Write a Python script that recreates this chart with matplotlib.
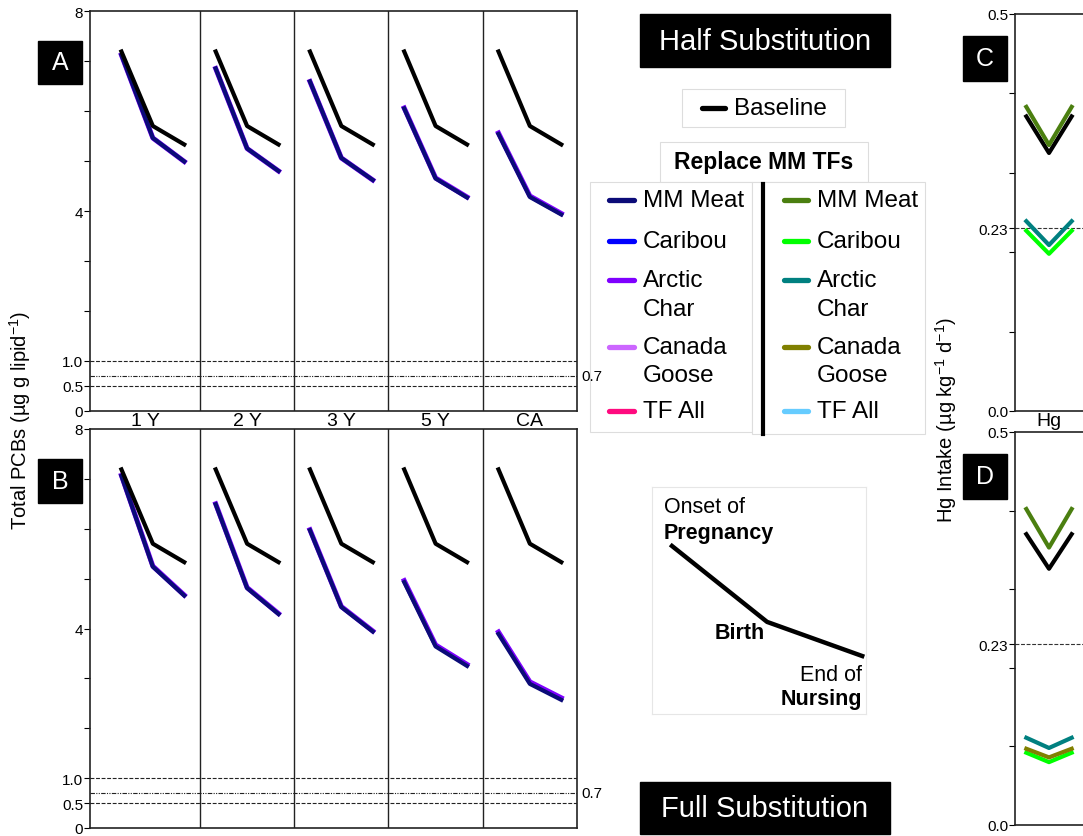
import matplotlib.pyplot as plt
from matplotlib.lines import Line2D
from matplotlib.patches import Rectangle
from matplotlib.transforms import blended_transform_factory

plt.rcParams['font.family'] = ['Liberation Sans', 'DejaVu Sans']
plt.rcParams['mathtext.fontset'] = 'custom'
plt.rcParams['mathtext.rm'] = 'Liberation Sans'

W, H = 1083, 837

# ---- data ----
periods = ['1 Y', '2 Y', '3 Y', '5 Y', 'CA']
stage_x = [0.5, 1.5, 2.5]          # onset of pregnancy, birth, end of nursing

pcb_baseline = [7.19, 5.70, 5.33]
pcb_half_meat = [[7.12, 5.46, 4.99], [6.85, 5.25, 4.80], [6.59, 5.06, 4.62],
                 [6.05, 4.65, 4.27], [5.54, 4.28, 3.93]]
pcb_half_char = [[7.12, 5.46, 4.99], [6.85, 5.25, 4.80], [6.59, 5.06, 4.62],
                 [6.06, 4.66, 4.28], [5.56, 4.30, 3.95]]
pcb_full_meat = [[7.06, 5.24, 4.66], [6.49, 4.81, 4.29], [5.97, 4.43, 3.94],
                 [4.93, 3.64, 3.25], [3.89, 2.89, 2.57]]
pcb_full_char = [[7.07, 5.25, 4.67], [6.50, 4.82, 4.30], [5.98, 4.44, 3.95],
                 [4.96, 3.67, 3.28], [3.93, 2.93, 2.61]]

hg_half_base = [0.371, 0.325, 0.371]
hg_half_meat = [0.383, 0.335, 0.383]
hg_half_caribou = [0.227, 0.198, 0.227]
hg_half_char = [0.239, 0.209, 0.239]

hg_full_base = [0.370, 0.326, 0.370]
hg_full_meat = [0.402, 0.353, 0.402]
hg_full_caribou = [0.092, 0.080, 0.092]
hg_full_goose = [0.097, 0.086, 0.097]
hg_full_char = [0.111, 0.098, 0.111]

pcb_guides = [1.0, 0.5]
pcb_guide_07 = 0.7
hg_guide = 0.23

timeline_x = [0, 1, 2]
timeline_y = [1.0, 0.31, 0.0]

food_labels = ['MM Meat', 'Caribou', 'Arctic\nChar', 'Canada\nGoose', 'TF All']
pcb_colors = ['#0b0b78', '#0000ff', '#7f00ff', '#cc66ff', '#ff0a7f']
hg_colors = ['#4b7f10', '#00ff00', '#008080', '#808000', '#66ccff']


def box(x0, y0, x1, y1):
    return [x0 / W, 1 - y1 / H, (x1 - x0) / W, (y1 - y0) / H]


def P(x, y):
    return x / W, 1 - y / H


fig = plt.figure(figsize=(W / 100, H / 100), dpi=100)
LW = 3


def pcb_panel(rect, meat, char, show_strip):
    ax = fig.add_axes(rect)
    for k in range(len(periods)):
        xs = [3 * k + s for s in stage_x]
        ax.plot(xs, char[k], color=pcb_colors[2], lw=LW + 0.6, zorder=4)
        ax.plot(xs, meat[k], color=pcb_colors[0], lw=LW, zorder=5)
        ax.plot(xs, pcb_baseline, color='black', lw=LW, zorder=6)
    for xv in [3, 6, 9, 12]:
        ax.axvline(xv, color='#222222', lw=1.0, zorder=1)
    for yv in pcb_guides:
        ax.axhline(yv, color='#222222', lw=0.8, ls=(0, (3.5, 1.5)), zorder=1)
    ax.axhline(pcb_guide_07, color='#222222', lw=0.8,
               ls=(0, (4, 1.2, 1, 1.2, 1, 1.2)), zorder=1)
    tr = blended_transform_factory(ax.transAxes, ax.transData)
    ax.text(1.01, pcb_guide_07, '0.7', transform=tr, va='center', ha='left', fontsize=11)
    ax.set_xlim(-0.5, 15)
    ax.set_ylim(0, 8)
    ax.set_xticks([])
    ax.set_yticks([0, 0.5, 1, 2, 3, 4, 5, 6, 7, 8])
    ax.set_yticklabels(['0', '0.5', '1.0', '', '', '4', '', '', '', '8'], fontsize=11)
    ax.tick_params(axis='y', direction='out', length=4, width=0.8, pad=1)
    for sp in ax.spines.values():
        sp.set_color('#222222')
        sp.set_linewidth(1.2)
    if show_strip:
        trs = blended_transform_factory(ax.transData, ax.transAxes)
        edges = [-0.5, 3, 6, 9, 12, 15]
        for k, lab in enumerate(periods):
            ax.text((edges[k] + edges[k + 1]) / 2, -0.023, lab, transform=trs,
                    ha='center', va='center', fontsize=14)
    return ax


axA = pcb_panel(box(90, 12, 577, 412), pcb_half_meat, pcb_half_char, True)
axB = pcb_panel(box(90, 430, 577, 829), pcb_full_meat, pcb_full_char, False)


def hg_panel(rect, series, show_strip):
    ax = fig.add_axes(rect)
    for vals, col in series:
        ax.plot(stage_x, vals, color=col, lw=LW)
    ax.axhline(hg_guide, color='#333333', lw=0.8, ls=(0, (3.5, 1.5)), zorder=1)
    ax.set_xlim(0, 3)
    ax.set_ylim(0, 0.5)
    ax.set_xticks([])
    ax.set_yticks([0, 0.1, 0.2, hg_guide, 0.3, 0.4, 0.5])
    ax.set_yticklabels(['0.0', '', '', '0.23', '', '', '0.5'], fontsize=11)
    ax.tick_params(axis='y', direction='out', length=4, width=0.8, pad=1)
    ax.spines['right'].set_visible(False)
    for sp in ax.spines.values():
        sp.set_color('#222222')
        sp.set_linewidth(1.2)
    if show_strip:
        ax.text(1.5, -0.025, 'Hg', transform=blended_transform_factory(ax.transData, ax.transAxes),
                ha='center', va='center', fontsize=14)
    return ax


axC = hg_panel(box(1015, 15, 1083, 412),
               [(hg_half_base, 'black'), (hg_half_meat, hg_colors[0]),
                (hg_half_caribou, hg_colors[1]), (hg_half_char, hg_colors[2])], True)
axD = hg_panel(box(1015, 433, 1083, 826),
               [(hg_full_base, 'black'), (hg_full_meat, hg_colors[0]),
                (hg_full_caribou, hg_colors[1]), (hg_full_goose, hg_colors[3]),
                (hg_full_char, hg_colors[2])], False)

# axis titles
fig.text(*P(20, 420), 'Total PCBs (µg g lipid$^{\\mathregular{-1}}$)', rotation=90,
         ha='center', va='center', fontsize=14.5)
fig.text(*P(946, 420), 'Hg Intake (µg kg$^{\\mathregular{-1}}$ d$^{\\mathregular{-1}}$)', rotation=90,
         ha='center', va='center', fontsize=14.5)


def black_label(x0, y0, x1, y1, txt, size):
    fig.add_artist(Rectangle(P(x0, y1), (x1 - x0) / W, (y1 - y0) / H,
                             transform=fig.transFigure, color='black', zorder=10))
    fig.text(*P((x0 + x1) / 2, (y0 + y1) / 2), txt, color='white', fontsize=size,
             ha='center', va='center', zorder=11)


black_label(38, 42, 82, 85, 'A', 18)
black_label(38, 460, 82, 504, 'B', 18)
black_label(963, 37, 1007, 82, 'C', 18)
black_label(963, 455, 1007, 500, 'D', 18)
black_label(640, 15, 890, 68, 'Half Substitution', 21)
black_label(640, 783, 890, 835, 'Full Substitution', 21)


def frame(x0, y0, x1, y1, ec='#dddddd'):
    # drawn below the axes so the "0.7" label stays on top
    fig.add_artist(Rectangle(P(x0, y1), (x1 - x0) / W, (y1 - y0) / H,
                             transform=fig.transFigure, facecolor='white',
                             edgecolor=ec, lw=0.8, zorder=-1))


def handle(x0, x1, y, col):
    fig.add_artist(Line2D([x0 / W, x1 / W], [1 - y / H] * 2, transform=fig.transFigure,
                          color=col, lw=3.8, solid_capstyle='round', zorder=3))


# baseline legend
frame(682, 90, 845, 128)
handle(702, 725, 109, 'black')
fig.text(*P(734, 109), 'Baseline', fontsize=17.5, va='center', ha='left', zorder=4)

# replacement legends
frame(660, 143, 868, 183)
fig.text(*P(764, 163), 'Replace MM TFs', fontsize=16.5, fontweight='bold',
         ha='center', va='center', zorder=4)
frame(590, 183, 752, 433)
frame(752, 183, 925, 435)
fig.add_artist(Line2D([763 / W] * 2, [1 - 185 / H, 1 - 435 / H], transform=fig.transFigure,
                      color='black', lw=3, zorder=4))
row_y = [201, 242, 281, 348, 412]
for lab, yy, c1, c2 in zip(food_labels, row_y, pcb_colors, hg_colors):
    handle(609, 634, yy, c1)
    handle(784, 808, yy, c2)
    for i, line in enumerate(lab.split('\n')):
        fig.text(*P(643, yy + 28.5 * i), line, fontsize=17.5, va='center', ha='left', zorder=4)
        fig.text(*P(817, yy + 28.5 * i), line, fontsize=17.5, va='center', ha='left', zorder=4)

# timeline schematic
axT = fig.add_axes(box(652, 488, 866, 715))
axT.plot(timeline_x, timeline_y, color='black', lw=3.2)
axT.set_xlim(-0.21, 2.04)
axT.set_ylim(-0.527, 1.536)
axT.set_xticks([])
axT.set_yticks([])
for sp in axT.spines.values():
    sp.set_color('#e6e6e6')
    sp.set_linewidth(0.8)
axT.text(-0.084, 1.355, 'Onset of', fontsize=15.5, ha='left', va='center')
axT.text(-0.084, 1.127, 'Pregnancy', fontsize=15.5, fontweight='bold', ha='left', va='center')
axT.text(0.716, 0.218, 'Birth', fontsize=15.5, fontweight='bold', ha='center', va='center')
axT.text(2.0, -0.164, 'End of', fontsize=15.5, ha='right', va='center')
axT.text(2.0, -0.382, 'Nursing', fontsize=15.5, fontweight='bold', ha='right', va='center')

fig.savefig('out.png', dpi=100)
